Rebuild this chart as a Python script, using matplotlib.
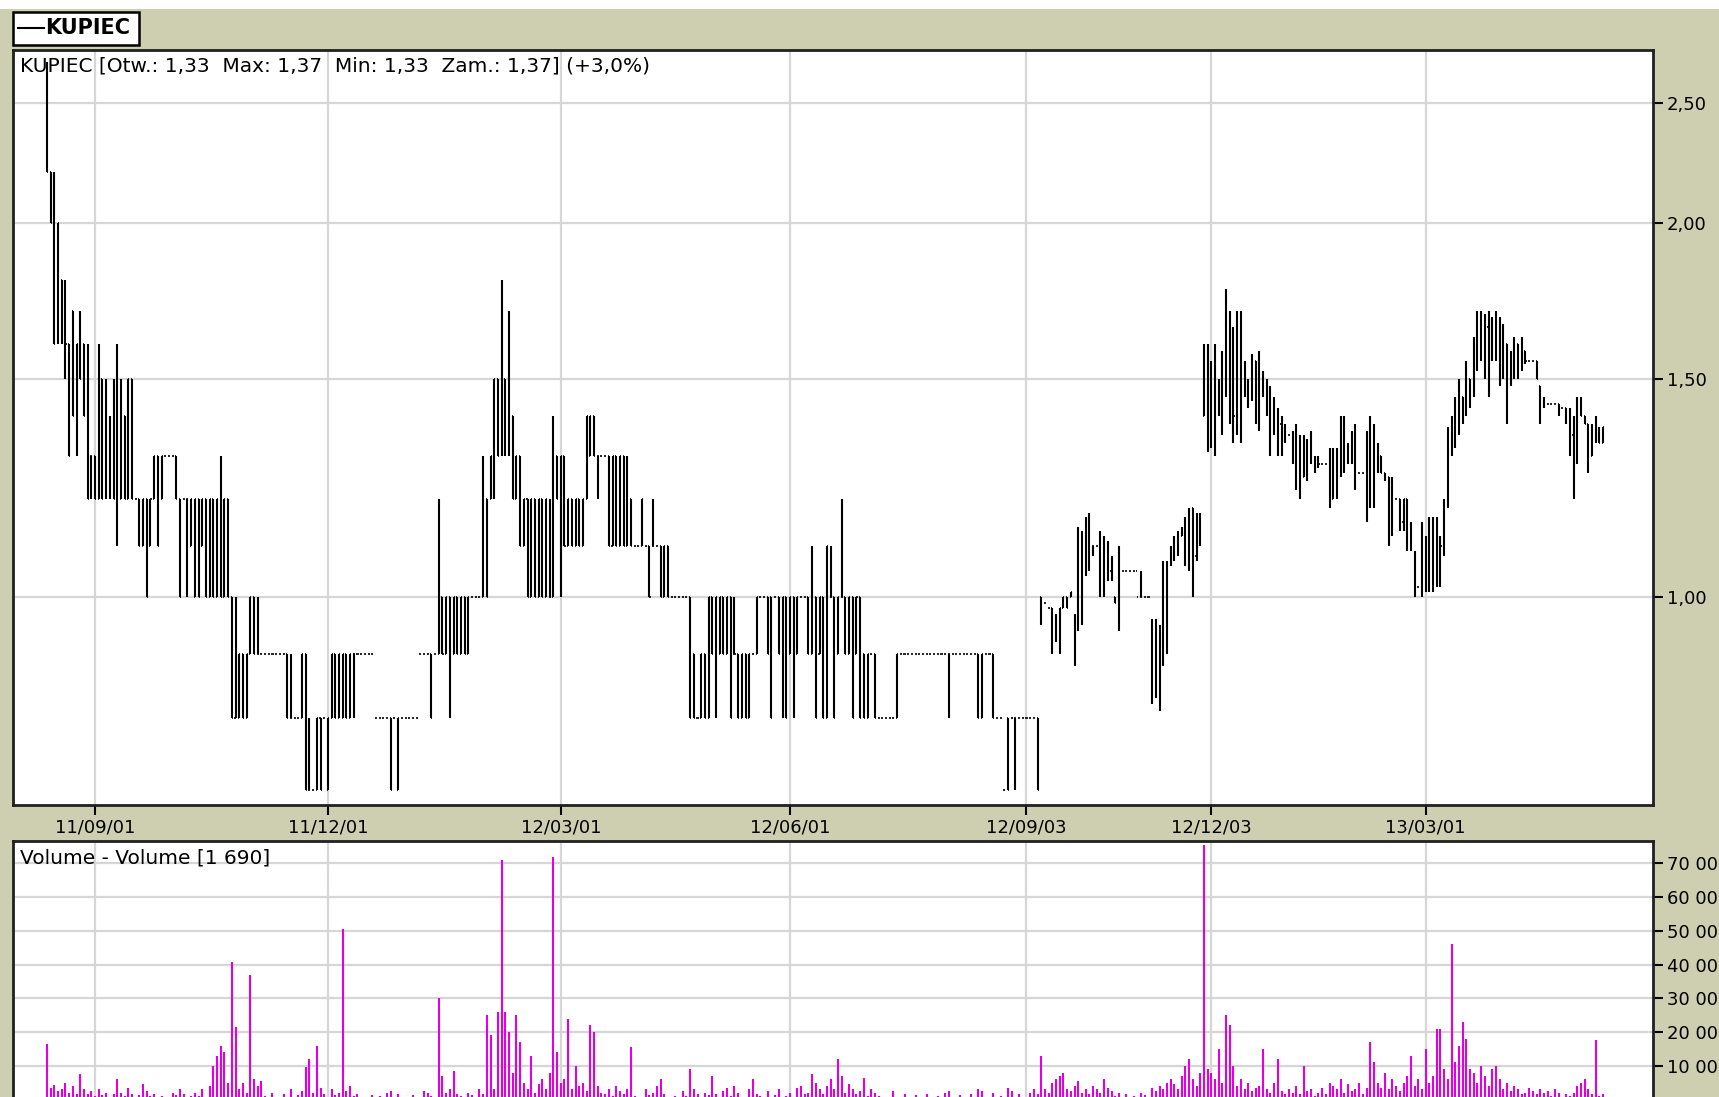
import numpy as np
import matplotlib.pyplot as plt
from matplotlib.patches import Rectangle
from matplotlib.lines import Line2D
from matplotlib.ticker import FixedLocator, NullLocator

# ---- data (bar index = trading session) ----
highs = [
    2.70, 2.20, 2.20, 2.00, 1.80, 1.80, 1.60, 1.70, 1.60, 1.70,
    1.60, 1.60, 1.30, 1.30, 1.60, 1.50, 1.50, 1.40, 1.50, 1.60,
    1.50, 1.40, 1.50, 1.50, 1.20, 1.20, 1.20, 1.20, 1.20, 1.30,
    1.30, 1.30, 1.30, 1.30, 1.30, 1.30, 1.20, 1.20, 1.20, 1.20,
    1.20, 1.20, 1.20, 1.20, 1.20, 1.20, 1.20, 1.30, 1.20, 1.20,
    1.00, 1.00, 0.90, 0.90, 0.90, 1.00, 1.00, 1.00, 0.90, 0.90,
    0.90, 0.90, 0.90, 0.90, 0.90, 0.90, 0.90, 0.80, 0.80, 0.90,
    0.90, 0.80, 0.70, 0.80, 0.80, 0.80, 0.80, 0.90, 0.90, 0.90,
    0.90, 0.90, 0.90, 0.90, 0.90, 0.90, 0.90, 0.90, 0.90, 0.80,
    0.80, 0.80, 0.80, 0.80, 0.80, 0.80, 0.80, 0.80, 0.80, 0.80,
    0.80, 0.90, 0.90, 0.90, 0.90, 0.90, 1.20, 1.00, 1.00, 1.00,
    1.00, 1.00, 1.00, 1.00, 1.00, 1.00, 1.00, 1.00, 1.30, 1.20,
    1.30, 1.50, 1.50, 1.80, 1.50, 1.70, 1.40, 1.30, 1.30, 1.20,
    1.20, 1.20, 1.20, 1.20, 1.20, 1.20, 1.20, 1.40, 1.30, 1.30,
    1.30, 1.20, 1.20, 1.20, 1.20, 1.20, 1.40, 1.40, 1.40, 1.30,
    1.30, 1.30, 1.30, 1.30, 1.30, 1.30, 1.30, 1.30, 1.20, 1.10,
    1.10, 1.20, 1.10, 1.10, 1.20, 1.10, 1.10, 1.10, 1.10, 1.00,
    1.00, 1.00, 1.00, 1.00, 1.00, 0.90, 0.80, 0.90, 0.90, 1.00,
    1.00, 1.00, 1.00, 1.00, 1.00, 1.00, 1.00, 0.90, 0.90, 0.90,
    0.90, 0.90, 1.00, 1.00, 1.00, 1.00, 1.00, 1.00, 1.00, 1.00,
    1.00, 1.00, 1.00, 1.00, 1.00, 1.00, 1.00, 1.10, 1.00, 1.00,
    1.00, 1.10, 1.10, 1.00, 1.00, 1.20, 1.00, 1.00, 1.00, 1.00,
    1.00, 0.90, 0.90, 0.90, 0.90, 0.80, 0.80, 0.80, 0.80, 0.80,
    0.90, 0.90, 0.90, 0.90, 0.90, 0.90, 0.90, 0.90, 0.90, 0.90,
    0.90, 0.90, 0.90, 0.90, 0.90, 0.90, 0.90, 0.90, 0.90, 0.90,
    0.90, 0.90, 0.90, 0.90, 0.90, 0.90, 0.90, 0.80, 0.80, 0.70,
    0.80, 0.80, 0.80, 0.80, 0.80, 0.80, 0.80, 0.80, 0.80,
    1.00, 0.99, 0.98, 0.98, 0.97, 0.98, 1.00, 1.00, 1.01, 0.97,
    1.14, 1.13, 1.16, 1.17, 1.10, 1.10, 1.13, 1.12, 1.11, 1.08,
    1.00, 1.10, 1.05, 1.05, 1.05, 1.05, 1.05, 1.05, 1.00, 1.00,
    0.96, 0.96, 0.95, 1.07, 1.07, 1.10, 1.12, 1.13, 1.14, 1.16,
    1.18, 1.18, 1.17, 1.17, 1.60, 1.60, 1.55, 1.60, 1.50, 1.58,
    1.77, 1.70, 1.65, 1.70, 1.70, 1.55, 1.50, 1.57, 1.55, 1.58,
    1.52, 1.50, 1.48, 1.45, 1.42, 1.40, 1.38, 1.35, 1.36, 1.38,
    1.35, 1.35, 1.34, 1.36, 1.30, 1.30, 1.28, 1.28, 1.32, 1.32,
    1.32, 1.40, 1.40, 1.33, 1.36, 1.38, 1.26, 1.26, 1.36, 1.40,
    1.38, 1.33, 1.30, 1.26, 1.25, 1.25, 1.20, 1.20, 1.20, 1.20,
    1.15, 1.09, 1.02, 1.15, 1.12, 1.16, 1.16, 1.16, 1.12, 1.20,
    1.37, 1.40, 1.45, 1.50, 1.45, 1.55, 1.50, 1.62, 1.70, 1.70,
    1.69, 1.70, 1.68, 1.70, 1.68, 1.66, 1.60, 1.58, 1.62, 1.60,
    1.62, 1.58, 1.55, 1.55, 1.55, 1.48, 1.45, 1.43, 1.43, 1.43,
    1.43, 1.42, 1.42, 1.42, 1.40, 1.45, 1.45, 1.40, 1.38, 1.38,
    1.40, 1.37, 1.37,
]
lows = [
    2.20, 2.00, 1.60, 1.60, 1.60, 1.50, 1.30, 1.40, 1.30, 1.50,
    1.40, 1.20, 1.20, 1.20, 1.20, 1.20, 1.20, 1.20, 1.20, 1.10,
    1.20, 1.20, 1.20, 1.20, 1.20, 1.10, 1.10, 1.00, 1.10, 1.20,
    1.10, 1.20, 1.30, 1.30, 1.30, 1.20, 1.00, 1.20, 1.00, 1.10,
    1.00, 1.00, 1.10, 1.00, 1.00, 1.00, 1.00, 1.00, 1.00, 1.00,
    0.80, 0.80, 0.80, 0.80, 0.80, 0.90, 0.90, 0.90, 0.90, 0.90,
    0.90, 0.90, 0.90, 0.90, 0.90, 0.80, 0.80, 0.80, 0.80, 0.80,
    0.70, 0.70, 0.70, 0.70, 0.70, 0.80, 0.70, 0.80, 0.80, 0.80,
    0.80, 0.80, 0.80, 0.80, 0.90, 0.90, 0.90, 0.90, 0.90, 0.80,
    0.80, 0.80, 0.80, 0.70, 0.80, 0.70, 0.80, 0.80, 0.80, 0.80,
    0.80, 0.90, 0.90, 0.90, 0.80, 0.90, 0.90, 0.90, 0.90, 0.80,
    0.90, 0.90, 0.90, 0.90, 0.90, 1.00, 1.00, 1.00, 1.00, 1.00,
    1.20, 1.20, 1.30, 1.30, 1.30, 1.30, 1.20, 1.20, 1.10, 1.10,
    1.00, 1.00, 1.00, 1.00, 1.00, 1.00, 1.00, 1.00, 1.20, 1.00,
    1.10, 1.10, 1.10, 1.10, 1.10, 1.10, 1.20, 1.30, 1.30, 1.20,
    1.30, 1.30, 1.10, 1.10, 1.10, 1.10, 1.10, 1.10, 1.10, 1.10,
    1.10, 1.10, 1.10, 1.00, 1.10, 1.10, 1.00, 1.00, 1.00, 1.00,
    1.00, 1.00, 1.00, 1.00, 0.80, 0.80, 0.80, 0.80, 0.80, 0.80,
    0.90, 0.80, 0.90, 0.90, 0.90, 0.80, 0.90, 0.80, 0.80, 0.80,
    0.80, 0.90, 0.90, 1.00, 1.00, 0.90, 0.80, 1.00, 0.90, 0.80,
    0.80, 0.90, 0.80, 0.90, 1.00, 1.00, 0.90, 0.90, 0.80, 0.90,
    0.80, 0.80, 1.00, 0.80, 0.90, 1.00, 0.90, 0.90, 0.80, 0.90,
    0.80, 0.80, 0.80, 0.90, 0.80, 0.80, 0.80, 0.80, 0.80, 0.80,
    0.80, 0.90, 0.90, 0.90, 0.90, 0.90, 0.90, 0.90, 0.90, 0.90,
    0.90, 0.90, 0.90, 0.90, 0.80, 0.90, 0.90, 0.90, 0.90, 0.90,
    0.90, 0.90, 0.80, 0.80, 0.90, 0.90, 0.80, 0.80, 0.80, 0.70,
    0.70, 0.80, 0.70, 0.80, 0.80, 0.80, 0.80, 0.80, 0.70,
    0.95, 0.99, 0.98, 0.90, 0.92, 0.90, 0.98, 0.98, 1.00, 0.88,
    0.94, 0.95, 1.04, 1.05, 1.08, 1.10, 1.00, 1.00, 1.03, 1.03,
    0.99, 0.94, 1.05, 1.05, 1.05, 1.05, 1.05, 1.00, 1.00, 1.00,
    0.82, 0.83, 0.81, 0.88, 0.90, 1.06, 1.07, 1.08, 1.12, 1.06,
    1.05, 1.00, 1.07, 1.10, 1.40, 1.31, 1.32, 1.30, 1.40, 1.35,
    1.45, 1.38, 1.33, 1.35, 1.33, 1.45, 1.42, 1.44, 1.38, 1.36,
    1.45, 1.40, 1.30, 1.35, 1.30, 1.30, 1.33, 1.35, 1.28, 1.22,
    1.20, 1.25, 1.24, 1.28, 1.26, 1.27, 1.28, 1.28, 1.18, 1.20,
    1.20, 1.25, 1.26, 1.28, 1.28, 1.22, 1.26, 1.26, 1.15, 1.18,
    1.18, 1.26, 1.26, 1.24, 1.10, 1.12, 1.20, 1.13, 1.13, 1.09,
    1.09, 1.00, 1.02, 1.00, 1.01, 1.01, 1.01, 1.02, 1.02, 1.08,
    1.18, 1.30, 1.32, 1.35, 1.38, 1.40, 1.42, 1.45, 1.52, 1.55,
    1.50, 1.45, 1.55, 1.55, 1.48, 1.50, 1.38, 1.48, 1.50, 1.50,
    1.52, 1.54, 1.55, 1.55, 1.50, 1.38, 1.42, 1.43, 1.43, 1.43,
    1.40, 1.42, 1.38, 1.30, 1.20, 1.28, 1.40, 1.38, 1.26, 1.30,
    1.33, 1.33, 1.33,
]
opens = [
    2.50, 2.20, 2.00, 1.80, 1.80, 1.70, 1.60, 1.70, 1.40, 1.60,
    1.60, 1.40, 1.30, 1.30, 1.20, 1.50, 1.30, 1.30, 1.30, 1.50,
    1.20, 1.40, 1.20, 1.50, 1.20, 1.20, 1.10, 1.20, 1.10, 1.20,
    1.30, 1.20, 1.30, 1.30, 1.30, 1.30, 1.20, 1.20, 1.20, 1.10,
    1.00, 1.20, 1.10, 1.20, 1.00, 1.20, 1.00, 1.20, 1.00, 1.20,
    1.00, 0.80, 0.80, 0.90, 0.80, 0.90, 1.00, 0.90, 0.90, 0.90,
    0.90, 0.90, 0.90, 0.90, 0.90, 0.90, 0.80, 0.80, 0.80, 0.80,
    0.90, 0.70, 0.70, 0.70, 0.80, 0.80, 0.70, 0.80, 0.90, 0.80,
    0.80, 0.90, 0.80, 0.90, 0.90, 0.90, 0.90, 0.90, 0.90, 0.80,
    0.80, 0.80, 0.80, 0.80, 0.80, 0.70, 0.80, 0.80, 0.80, 0.80,
    0.80, 0.90, 0.90, 0.90, 0.90, 0.90, 0.90, 1.00, 0.90, 1.00,
    0.90, 1.00, 0.90, 1.00, 0.90, 1.00, 1.00, 1.00, 1.00, 1.20,
    1.20, 1.30, 1.50, 1.40, 1.50, 1.40, 1.40, 1.20, 1.30, 1.10,
    1.20, 1.00, 1.20, 1.00, 1.20, 1.00, 1.00, 1.00, 1.30, 1.20,
    1.30, 1.10, 1.20, 1.10, 1.20, 1.10, 1.20, 1.30, 1.40, 1.30,
    1.30, 1.30, 1.30, 1.10, 1.30, 1.10, 1.30, 1.10, 1.20, 1.10,
    1.10, 1.10, 1.10, 1.10, 1.10, 1.10, 1.10, 1.00, 1.10, 1.00,
    1.00, 1.00, 1.00, 1.00, 1.00, 0.90, 0.80, 0.80, 0.90, 0.80,
    1.00, 0.90, 0.90, 1.00, 0.90, 1.00, 0.90, 0.90, 0.80, 0.90,
    0.80, 0.90, 0.90, 1.00, 1.00, 1.00, 1.00, 1.00, 1.00, 0.90,
    1.00, 0.90, 1.00, 0.90, 1.00, 1.00, 1.00, 0.90, 1.00, 0.90,
    1.00, 0.80, 1.00, 1.00, 0.90, 1.00, 1.00, 0.90, 1.00, 0.90,
    1.00, 0.90, 0.80, 0.90, 0.90, 0.80, 0.80, 0.80, 0.80, 0.80,
    0.80, 0.90, 0.90, 0.90, 0.90, 0.90, 0.90, 0.90, 0.90, 0.90,
    0.90, 0.90, 0.90, 0.90, 0.90, 0.90, 0.90, 0.90, 0.90, 0.90,
    0.90, 0.90, 0.90, 0.80, 0.90, 0.90, 0.90, 0.80, 0.80, 0.70,
    0.80, 0.80, 0.80, 0.80, 0.80, 0.80, 0.80, 0.80, 0.80,
    1.00, 0.99, 0.98, 0.98, 0.93, 0.92, 0.98, 1.00, 1.00, 0.95,
    0.95, 1.10, 1.05, 1.15, 1.10, 1.10, 1.10, 1.01, 1.10, 1.05,
    1.00, 1.00, 1.05, 1.05, 1.05, 1.05, 1.05, 1.00, 1.00, 1.00,
    0.95, 0.85, 0.90, 0.90, 1.00, 1.07, 1.08, 1.10, 1.12, 1.12,
    1.15, 1.18, 1.08, 1.15, 1.40, 1.55, 1.35, 1.40, 1.45, 1.40,
    1.50, 1.65, 1.45, 1.40, 1.65, 1.50, 1.48, 1.45, 1.55, 1.40,
    1.50, 1.48, 1.45, 1.40, 1.40, 1.38, 1.35, 1.35, 1.35, 1.30,
    1.30, 1.25, 1.30, 1.30, 1.28, 1.28, 1.28, 1.28, 1.28, 1.20,
    1.30, 1.28, 1.38, 1.30, 1.30, 1.35, 1.26, 1.26, 1.26, 1.20,
    1.35, 1.28, 1.30, 1.26, 1.25, 1.15, 1.20, 1.20, 1.15, 1.20,
    1.10, 1.08, 1.02, 1.02, 1.10, 1.02, 1.15, 1.03, 1.10, 1.10,
    1.20, 1.35, 1.35, 1.40, 1.45, 1.42, 1.50, 1.48, 1.60, 1.68,
    1.60, 1.65, 1.60, 1.60, 1.65, 1.55, 1.60, 1.50, 1.55, 1.60,
    1.55, 1.58, 1.55, 1.55, 1.55, 1.48, 1.43, 1.43, 1.43, 1.43,
    1.43, 1.42, 1.42, 1.40, 1.35, 1.30, 1.42, 1.40, 1.38, 1.30,
    1.35, 1.36, 1.33,
]
closes = [
    2.20, 2.00, 1.60, 2.00, 1.70, 1.60, 1.30, 1.40, 1.60, 1.50,
    1.40, 1.20, 1.30, 1.20, 1.50, 1.20, 1.30, 1.30, 1.20, 1.20,
    1.40, 1.20, 1.50, 1.20, 1.20, 1.10, 1.20, 1.00, 1.20, 1.30,
    1.10, 1.30, 1.30, 1.30, 1.30, 1.20, 1.00, 1.20, 1.20, 1.20,
    1.20, 1.00, 1.20, 1.00, 1.20, 1.00, 1.20, 1.00, 1.20, 1.00,
    0.80, 0.90, 0.90, 0.80, 0.90, 1.00, 0.90, 0.90, 0.90, 0.90,
    0.90, 0.90, 0.90, 0.90, 0.90, 0.80, 0.80, 0.80, 0.80, 0.90,
    0.70, 0.70, 0.70, 0.80, 0.70, 0.80, 0.80, 0.90, 0.80, 0.90,
    0.90, 0.80, 0.90, 0.90, 0.90, 0.90, 0.90, 0.90, 0.90, 0.80,
    0.80, 0.80, 0.80, 0.70, 0.80, 0.80, 0.80, 0.80, 0.80, 0.80,
    0.80, 0.90, 0.90, 0.90, 0.80, 0.90, 1.00, 0.90, 1.00, 0.90,
    1.00, 0.90, 1.00, 0.90, 1.00, 1.00, 1.00, 1.00, 1.20, 1.00,
    1.30, 1.50, 1.30, 1.50, 1.40, 1.40, 1.20, 1.30, 1.10, 1.20,
    1.00, 1.20, 1.00, 1.20, 1.00, 1.20, 1.00, 1.30, 1.20, 1.30,
    1.10, 1.20, 1.10, 1.20, 1.10, 1.20, 1.40, 1.40, 1.30, 1.30,
    1.30, 1.30, 1.10, 1.30, 1.10, 1.30, 1.10, 1.20, 1.10, 1.10,
    1.10, 1.20, 1.10, 1.00, 1.10, 1.10, 1.00, 1.10, 1.00, 1.00,
    1.00, 1.00, 1.00, 1.00, 0.80, 0.80, 0.80, 0.90, 0.80, 1.00,
    0.90, 1.00, 1.00, 0.90, 1.00, 0.80, 0.90, 0.80, 0.90, 0.80,
    0.90, 0.90, 1.00, 1.00, 1.00, 0.90, 0.80, 1.00, 0.90, 1.00,
    0.80, 1.00, 0.90, 1.00, 1.00, 1.00, 0.90, 1.00, 0.80, 1.00,
    0.80, 1.10, 1.00, 0.80, 1.00, 1.00, 0.90, 1.00, 0.80, 1.00,
    0.80, 0.80, 0.90, 0.90, 0.80, 0.80, 0.80, 0.80, 0.80, 0.80,
    0.90, 0.90, 0.90, 0.90, 0.90, 0.90, 0.90, 0.90, 0.90, 0.90,
    0.90, 0.90, 0.90, 0.90, 0.90, 0.90, 0.90, 0.90, 0.90, 0.90,
    0.90, 0.90, 0.80, 0.90, 0.90, 0.90, 0.80, 0.80, 0.80, 0.70,
    0.70, 0.80, 0.80, 0.80, 0.80, 0.80, 0.80, 0.80, 0.70,
    0.99, 0.99, 0.98, 0.92, 0.96, 0.98, 1.00, 0.98, 1.01, 0.90,
    1.10, 1.05, 1.15, 1.10, 1.10, 1.10, 1.01, 1.10, 1.05, 1.04,
    0.99, 1.05, 1.05, 1.05, 1.05, 1.05, 1.00, 1.00, 1.00, 1.00,
    0.85, 0.90, 0.90, 1.00, 1.06, 1.08, 1.10, 1.12, 1.13, 1.15,
    1.10, 1.05, 1.15, 1.16, 1.55, 1.35, 1.40, 1.45, 1.42, 1.55,
    1.70, 1.45, 1.40, 1.65, 1.50, 1.48, 1.45, 1.55, 1.40, 1.55,
    1.48, 1.42, 1.40, 1.40, 1.35, 1.35, 1.35, 1.35, 1.30, 1.35,
    1.25, 1.30, 1.28, 1.34, 1.28, 1.28, 1.28, 1.28, 1.20, 1.30,
    1.28, 1.38, 1.30, 1.30, 1.35, 1.26, 1.26, 1.26, 1.20, 1.35,
    1.28, 1.30, 1.26, 1.25, 1.15, 1.20, 1.20, 1.15, 1.20, 1.10,
    1.10, 1.02, 1.02, 1.10, 1.02, 1.15, 1.03, 1.10, 1.10, 1.18,
    1.35, 1.38, 1.42, 1.45, 1.40, 1.50, 1.45, 1.60, 1.68, 1.60,
    1.65, 1.50, 1.60, 1.65, 1.55, 1.60, 1.50, 1.55, 1.60, 1.55,
    1.58, 1.55, 1.55, 1.55, 1.50, 1.42, 1.43, 1.43, 1.43, 1.43,
    1.42, 1.42, 1.40, 1.35, 1.30, 1.42, 1.40, 1.38, 1.30, 1.35,
    1.36, 1.33, 1.37,
]
volumes = [
    16300, 3500, 4200, 2500, 3000, 5000, 2000, 4000, 1500, 7600,
    3000, 1500, 2500, 1000, 3000, 1200, 2000, 800, 1500, 6000,
    2000, 1000, 3500, 1500, 800, 1200, 4500, 2500, 1000, 1500,
    600, 1000, 500, 300, 2000, 1200, 3000, 1500, 800, 1000,
    2000, 1000, 3000, 500, 4000, 10000, 13000, 16000, 14000, 5000,
    40800, 21500, 3000, 5000, 2000, 36800, 6000, 4000, 5500, 1000,
    500, 2000, 800, 300, 1500, 700, 3000, 500, 1200, 2500,
    9500, 12000, 2000, 16000, 3500, 1500, 800, 3000, 1200, 2000,
    50600, 2500, 4000, 1000, 1500, 500, 300, 800, 1200, 400,
    1000, 600, 2000, 2500, 500, 1500, 300, 800, 400, 1200,
    600, 300, 2500, 2000, 1000, 500, 30000, 7000, 2000, 3000,
    8500, 1500, 1000, 500, 2000, 1200, 600, 3000, 1500, 25000,
    19000, 3000, 26000, 71000, 26000, 20000, 8000, 25000, 17000, 5000,
    3000, 13000, 2000, 4500, 6000, 3000, 8000, 72000, 14000, 5000,
    6000, 24000, 3000, 10000, 4000, 5000, 2500, 22000, 20000, 4000,
    2000, 1500, 3000, 1000, 4000, 2500, 1500, 3000, 15500, 1000,
    500, 800, 3000, 1200, 2000, 4000, 6000, 1500, 800, 500,
    1000, 300, 2500, 1000, 9000, 3000, 1500, 800, 2000, 1200,
    7000, 1500, 800, 2500, 3500, 1000, 4000, 2000, 800, 600,
    3000, 6000, 1500, 1000, 500, 2500, 800, 1200, 3000, 600,
    1000, 2000, 500, 3500, 4000, 1500, 2000, 7500, 5000, 3000,
    1500, 4000, 6000, 3000, 12000, 7000, 2000, 4500, 3000, 1500,
    2500, 6500, 1000, 3000, 2000, 1000, 500, 300, 800, 2500,
    800, 400, 1500, 300, 600, 1200, 500, 200, 1500, 800,
    300, 1000, 500, 2000, 2500, 600, 400, 1200, 800, 300,
    1500, 600, 3000, 2500, 800, 500, 2000, 400, 1000, 600,
    3500, 2500, 800, 1500, 500, 600, 2000, 3000, 1500, 13000,
    3000, 2000, 5000, 6000, 7000, 8000, 3000, 2500, 4000, 5500,
    2000, 3000, 1500, 4000, 3000, 2000, 6000, 3500, 2500, 1000,
    2000, 800, 1500, 500, 1000, 700, 2000, 1200, 500, 3500,
    2500, 4000, 3000, 5000, 6000, 4500, 3000, 7000, 10000, 12000,
    6000, 4000, 8000, 75500, 9000, 8000, 6000, 15000, 5000, 25000,
    22000, 10000, 4000, 6000, 3000, 5000, 2500, 3500, 4000, 15000,
    3000, 2000, 5000, 12000, 2500, 1500, 3000, 2000, 4000, 1500,
    10000, 2500, 3000, 1000, 2000, 3500, 1500, 5000, 4000, 3000,
    6000, 2000, 4500, 2500, 3000, 5000, 1500, 3500, 17000, 11000,
    5000, 3500, 8000, 3000, 6000, 4000, 2500, 5000, 7000, 13000,
    4000, 6000, 3000, 15000, 5000, 7000, 21000, 21000, 9000, 6000,
    46000, 11000, 16000, 23000, 18000, 9000, 8000, 5000, 10000, 7000,
    4000, 9000, 10000, 6000, 3000, 5000, 2500, 4000, 3000, 1500,
    2000, 3500, 2500, 1500, 3000, 2000, 2500, 1000, 3000, 2000,
    500, 1500, 1000, 2000, 4000, 5000, 6000, 3000, 1500, 17500,
    1000, 1690,
]
tick_idx = [13, 76, 139, 201, 265, 315, 373]
tick_labels = ["11/09/01", "11/12/01", "12/03/01", "12/06/01", "12/09/03", "12/12/03", "13/03/01"]
price_ticks = [1.0, 1.5, 2.0, 2.5]
vol_ticks = [10000, 20000, 30000, 40000, 50000, 60000, 70000]

W, H = 1719, 1097
BG = "#cecfb0"
GRID = "#d6d6d6"
plt.rcParams["font.family"] = ["DejaVu Sans"]

fig = plt.figure(figsize=(W / 100, H / 100), dpi=100)
fig.patch.set_facecolor(BG)
fig.add_artist(Rectangle((0, 1 - 9 / H), 1, 9 / H, transform=fig.transFigure,
                         facecolor="white", edgecolor="none", zorder=0))

def px(x0, y0, x1, y1):
    # pixel box (top-left origin) -> figure rect
    return [x0 / W, 1 - y1 / H, (x1 - x0) / W, (y1 - y0) / H]

xlim = (-9.2, 434.5)

# ---- price panel ----
ax = fig.add_axes(px(13, 50, 1653, 805))
n = min(len(highs), len(lows), len(opens), len(closes))
x = np.arange(n)
hi = np.array(highs[:n]); lo = np.array(lows[:n])
op = np.array(opens[:n]); cl = np.array(closes[:n])
ax.vlines(x, lo, hi, color="black", lw=1.5, zorder=3)
ax.hlines(op, x - 0.28, x, color="black", lw=1.2, zorder=3)
ax.hlines(cl, x, x + 0.28, color="black", lw=1.2, zorder=3)
ax.set_yscale("log")
ax.set_ylim(0.6804, 2.7584)
ax.set_xlim(*xlim)
ax.yaxis.set_major_locator(FixedLocator(price_ticks))
ax.yaxis.set_minor_locator(NullLocator())
ax.set_yticklabels([f"{v:.2f}".replace(".", ",") for v in price_ticks])
ax.yaxis.tick_right()
ax.set_xticks(tick_idx)
ax.set_xticklabels(tick_labels)
ax.grid(True, color=GRID, lw=1.6)
ax.set_axisbelow(True)
ax.tick_params(axis="both", direction="out", length=7, width=1.5, labelsize=13, pad=3)
for s in ax.spines.values():
    s.set_linewidth(2)
    s.set_color("#202020")

fig.text(20 / W, 1 - 66 / H, "KUPIEC [Otw.: 1,33  Max: 1,37  Min: 1,33  Zam.: 1,37] (+3,0%)",
         fontsize=14.5, va="center", ha="left", zorder=5)

# legend box
fig.add_artist(Rectangle((13 / W, 1 - 45 / H), 126 / W, 33 / H, transform=fig.transFigure,
                         facecolor="white", edgecolor="black", lw=1.8, zorder=4))
fig.add_artist(Line2D([18 / W, 44 / W], [1 - 28 / H, 1 - 28 / H], transform=fig.transFigure,
                      color="black", lw=1.5, zorder=5))
fig.text(45 / W, 1 - 28.5 / H, "KUPIEC", fontsize=15, fontweight="bold", va="center",
         ha="left", zorder=5)

# ---- volume panel ----
axv = fig.add_axes(px(13, 841, 1653, 1099.5))
xv = np.arange(len(volumes))
axv.vlines(xv, 0, volumes, color="#e000e0", lw=1.5, zorder=3)
axv.set_xlim(*xlim)
axv.set_ylim(0, 76600)
axv.set_yticks(vol_ticks)
axv.set_yticklabels([f"{v:,}".replace(",", " ") for v in vol_ticks])
axv.yaxis.tick_right()
axv.set_xticks(tick_idx)
axv.set_xticklabels([])
axv.grid(True, color=GRID, lw=1.6)
axv.set_axisbelow(True)
axv.tick_params(axis="both", direction="out", length=7, width=1.5, labelsize=13, pad=3)
for s in axv.spines.values():
    s.set_linewidth(2)
    s.set_color("#202020")
axv.text(7 / 1640, 1 - 17 / 258.5, "Volume - Volume [1 690]", transform=axv.transAxes,
         fontsize=14.5, va="center", ha="left")

fig.savefig("out.png", dpi=100, facecolor=BG)
